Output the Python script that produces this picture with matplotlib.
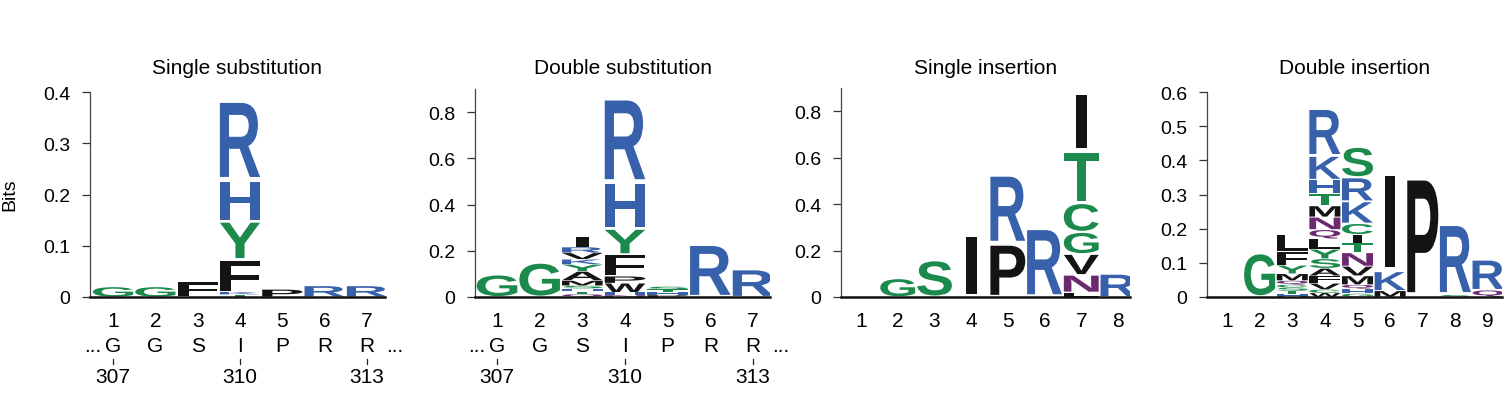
import matplotlib
matplotlib.use('Agg')
import matplotlib.pyplot as plt
import matplotlib.transforms as mtransforms
from matplotlib.textpath import TextPath
from matplotlib.patches import PathPatch
from matplotlib.path import Path
from matplotlib.font_manager import FontProperties

plt.rcParams['font.family'] = ['Liberation Sans', 'DejaVu Sans']

# stacks are listed bottom-up as (letter, bits)
single_sub = [
    [('G', 0.02)],
    [('G', 0.02)],
    [('F', 0.03)],
    [('T', 0.005), ('K', 0.005), ('F', 0.063), ('Y', 0.075), ('H', 0.08), ('R', 0.157)],
    [('P', 0.015)],
    [('R', 0.022)],
    [('R', 0.022)],
]
double_sub = [
    [('G', 0.097)],
    [('G', 0.15)],
    [('Q', 0.012), ('T', 0.012), ('H', 0.013), ('S', 0.012), ('M', 0.022), ('A', 0.04),
     ('Y', 0.03), ('K', 0.022), ('V', 0.028), ('R', 0.025), ('I', 0.045)],
    [('N', 0.008), ('H', 0.012), ('W', 0.04), ('P', 0.03), ('F', 0.095), ('Y', 0.11),
     ('H', 0.2), ('R', 0.37)],
    [('P', 0.008), ('H', 0.015), ('T', 0.01), ('S', 0.012)],
    [('R', 0.23)],
    [('R', 0.12)],
]
single_ins = [
    [],
    [('G', 0.08)],
    [('S', 0.16)],
    [('I', 0.27)],
    [('P', 0.23), ('R', 0.3)],
    [('R', 0.30)],
    [('L', 0.02), ('N', 0.075), ('V', 0.09), ('G', 0.095), ('C', 0.125), ('T', 0.225), ('I', 0.25)],
    [('R', 0.1)],
]
double_ins = [
    [],
    [('G', 0.13)],
    [('H', 0.008), ('T', 0.01), ('S', 0.01), ('C', 0.008), ('Q', 0.012), ('M', 0.02),
     ('Y', 0.025), ('F', 0.04), ('L', 0.05)],
    [('W', 0.012), ('C', 0.01), ('V', 0.018), ('F', 0.022), ('A', 0.022), ('S', 0.028),
     ('Y', 0.028), ('L', 0.03), ('Q', 0.027), ('N', 0.037), ('M', 0.033), ('T', 0.036),
     ('H', 0.04), ('K', 0.07), ('R', 0.14)],
    [('G', 0.01), ('H', 0.014), ('Q', 0.012), ('M', 0.026), ('V', 0.028), ('N', 0.04),
     ('T', 0.028), ('I', 0.025), ('C', 0.032), ('K', 0.065), ('R', 0.07), ('S', 0.09)],
    [('M', 0.018), ('K', 0.057), ('I', 0.29)],
    [('P', 0.355)],
    [('S', 0.006), ('R', 0.21)],
    [('Q', 0.02), ('R', 0.09)],
]

titles = ['Single substitution', 'Double substitution', 'Single insertion', 'Double insertion']
stacks = [single_sub, double_sub, single_ins, double_ins]
y_ticks = [
    [0, 0.1, 0.2, 0.3, 0.4],
    [0, 0.2, 0.4, 0.6, 0.8],
    [0, 0.2, 0.4, 0.6, 0.8],
    [0, 0.1, 0.2, 0.3, 0.4, 0.5, 0.6],
]
y_top = [0.4, 0.9, 0.9, 0.6]
wt_residues = ['G', 'G', 'S', 'I', 'P', 'R', 'R']
residue_pos = [1, 4, 7]
residue_num = ['307', '310', '313']

colors = {}
for c in 'GSTYC':
    colors[c] = '#1b8a4c'
for c in 'NQ':
    colors[c] = '#6b2a70'
for c in 'KRH':
    colors[c] = '#3761ab'
for c in 'DE':
    colors[c] = '#c0392b'
for c in 'AVLIPWFM':
    colors[c] = '#141414'

glyph_font = FontProperties(family='Liberation Sans', weight='bold')


def draw_letter(ax, ch, xc, y0, h, pad=0.04):
    tp = TextPath((0, 0), ch, size=1, prop=glyph_font)
    ext = tp.get_extents()
    w = 0.3 if ch == 'I' else 0.95
    v = tp.vertices.copy()
    v[:, 0] = xc - w / 2 + (v[:, 0] - ext.x0) / ext.width * w
    v[:, 1] = y0 + pad * h + (v[:, 1] - ext.y0) / ext.height * h * (1 - 2 * pad)
    ax.add_patch(PathPatch(Path(v, tp.codes), fc=colors[ch], ec='none', lw=0))


W, H = 1505, 406
# panel boxes in pixels: left spine, right end, top of spine, x of first tick, tick spacing
boxes = [(90, 385, 93, 113, 42.33), (475, 770, 90, 497, 42.67),
         (841, 1130, 89, 861, 36.71), (1207, 1502, 93, 1227, 32.63)]
base = 298

fig = plt.figure(figsize=(W / 100, H / 100), dpi=100)
axes = []
for i, (x0, x1, top, t1, dx) in enumerate(boxes):
    ax = fig.add_axes([x0 / W, 1 - base / H, (x1 - x0) / W, (base - top) / H])
    axes.append(ax)
    n = len(stacks[i])
    ax.set_xlim(1 - (t1 - x0) / dx, 1 + (x1 - t1) / dx)
    ax.set_ylim(0, y_top[i])
    for p, stack in enumerate(stacks[i]):
        y = 0
        for ch, h in stack:
            draw_letter(ax, ch, p + 1, y, h)
            y += h
    ax.set_xticks(range(1, n + 1))
    ax.set_xticklabels([str(k) for k in range(1, n + 1)], fontsize=15)
    ax.tick_params(axis='x', length=0, pad=10)
    ax.set_yticks(y_ticks[i])
    ax.set_yticklabels(['0'] + [f'{t:g}' for t in y_ticks[i][1:]], fontsize=14)
    ax.tick_params(axis='y', direction='out', length=6, width=0.9, color='#333333', pad=8)
    for s in ['top', 'right']:
        ax.spines[s].set_visible(False)
    ax.spines['left'].set_color('#444444')
    ax.spines['left'].set_linewidth(0.9)
    ax.spines['bottom'].set_color('#111111')
    ax.spines['bottom'].set_linewidth(1.8)
    fig.text((x0 + x1) / 2 / W, 1 - 68 / H, titles[i], ha='center', va='center', fontsize=15)

    if i < 2:
        trans = mtransforms.blended_transform_factory(ax.transData, fig.transFigure)
        for p, r in enumerate(wt_residues):
            ax.text(p + 1, 1 - 347 / H, r, transform=trans, ha='center', va='center',
                    fontsize=15, clip_on=False)
        ax.text(0.52, 1 - 347 / H, '...', transform=trans, ha='center', va='center',
                fontsize=15, clip_on=False)
        ax.text(7.66, 1 - 347 / H, '...', transform=trans, ha='center', va='center',
                fontsize=15, clip_on=False)
        for p, num in zip(residue_pos, residue_num):
            ax.plot([p, p], [1 - 360 / H, 1 - 365 / H], transform=trans, color='#222222',
                    lw=0.9, clip_on=False)
            ax.text(p, 1 - 378 / H, num, transform=trans, ha='center', va='center',
                    fontsize=15, clip_on=False)

fig.text(10 / W, 1 - 195 / H, 'Bits', rotation=90, ha='center', va='center', fontsize=14)

fig.savefig('out.png', dpi=100)
